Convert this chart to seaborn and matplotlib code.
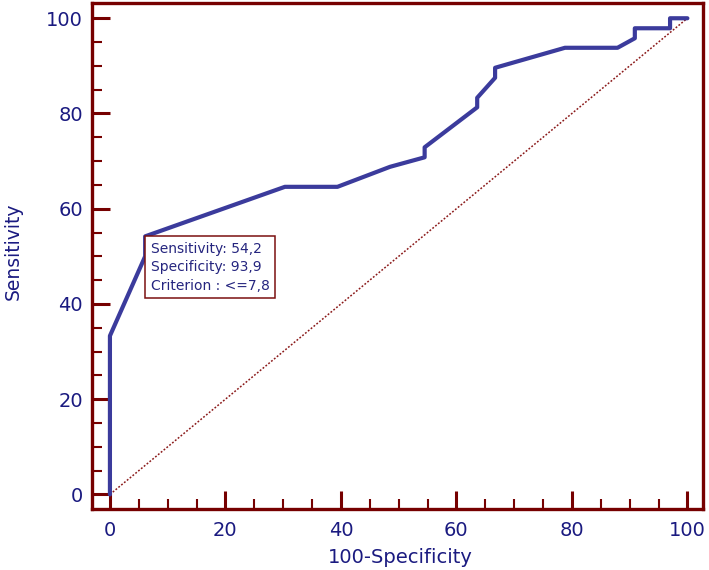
import matplotlib
matplotlib.use("Agg")
import matplotlib.pyplot as plt
import pandas as pd
import seaborn as sns
from matplotlib.ticker import MultipleLocator

# ROC points (100-Specificity, Sensitivity)
fpr = [0, 0, 6.1, 6.1, 30.3, 39.4, 48.5, 54.5, 54.5, 63.6, 63.6, 66.7, 66.7,
       78.8, 87.9, 90.9, 90.9, 97.0, 97.0, 100]
tpr = [0, 33.3, 50.0, 54.2, 64.6, 64.6, 68.8, 70.8, 72.9, 81.3, 83.3, 87.5, 89.6,
       93.8, 93.8, 95.8, 97.9, 97.9, 100, 100]
diag = [0, 100]

cut_sens = "54,2"
cut_spec = "93,9"
cut_crit = "<=7,8"
cut_point = (6.1, 54.2)

rocDf = pd.DataFrame({"100-Specificity": fpr, "Sensitivity": tpr})

sns.set_style("white")
plt.rcParams["font.family"] = ["DejaVu Sans"]

navy = "#1a1a80"
darkred = "#760000"
curve = "#3b3b9c"

fig = plt.figure(figsize=(7.09, 5.70), dpi=100)
ax = fig.add_axes([0.1298, 0.1075, 0.8617, 0.8872])

ax.plot(diag, diag, color="#8b1a1a", lw=1.1, ls=(0, (1.2, 1.2)))
sns.lineplot(data=rocDf, x="100-Specificity", y="Sensitivity", sort=False,
             estimator=None, color=curve, lw=3.0, ax=ax)

ax.annotate("Sensitivity: " + cut_sens + "\nSpecificity: " + cut_spec +
            "\nCriterion : " + cut_crit,
            xy=cut_point, xytext=(4, -4), textcoords="offset points",
            ha="left", va="top", fontsize=10, color="#25257f", linespacing=1.4,
            bbox=dict(boxstyle="square,pad=0.4", fc="white", ec="#7a1010", lw=1.1))

ax.set_xlim(-3.1, 102.7)
ax.set_ylim(-3.0, 103.2)
ax.xaxis.set_major_locator(MultipleLocator(20))
ax.yaxis.set_major_locator(MultipleLocator(20))
ax.xaxis.set_minor_locator(MultipleLocator(5))
ax.yaxis.set_minor_locator(MultipleLocator(5))

for s in ax.spines.values():
    s.set_visible(True)
    s.set_color(darkred)
    s.set_linewidth(2.4)

ax.tick_params(which="major", direction="in", length=13, width=2.2,
               color=darkred, labelcolor=navy, labelsize=14)
ax.tick_params(which="minor", direction="in", length=7, width=1.5, color=darkred)
ax.tick_params(axis="y", which="major", pad=6.5)
ax.tick_params(axis="x", which="major", pad=8.5)
ax.tick_params(top=False, right=False, which="both")
ax.tick_params(bottom=True, left=True, which="both")

ax.set_xlabel("100-Specificity", fontsize=14, color=navy)
ax.set_ylabel("Sensitivity", fontsize=13.5, color=navy)
ax.xaxis.set_label_coords(0.504, -0.077)
ax.yaxis.set_label_coords(-0.113, 0.51)

fig.savefig("out.png", dpi=100)
